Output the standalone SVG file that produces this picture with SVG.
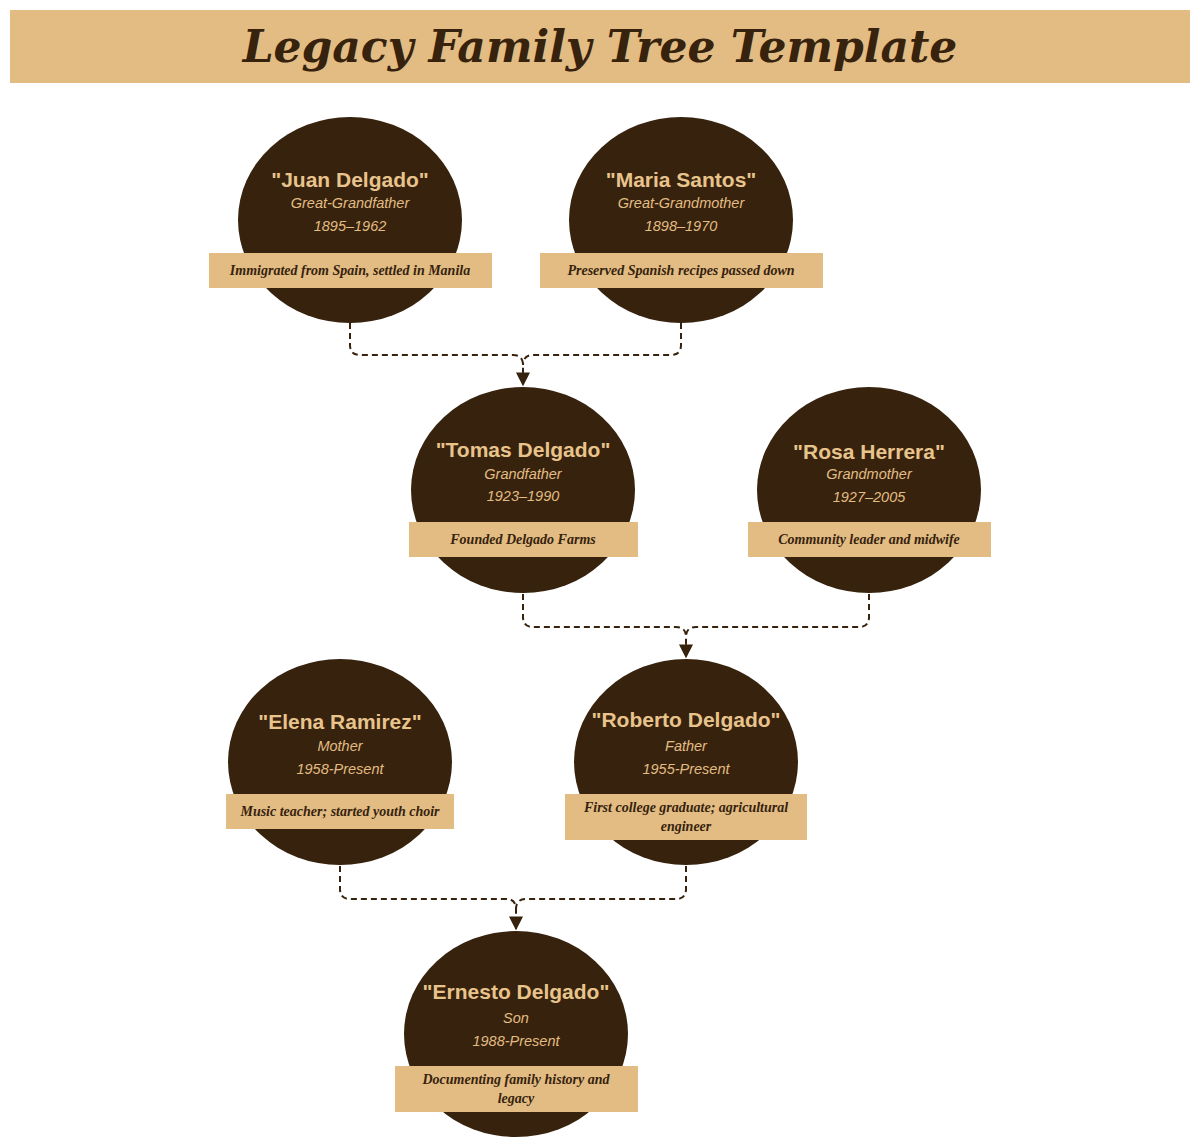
<svg xmlns="http://www.w3.org/2000/svg" width="1200" height="1148" viewBox="0 0 1200 1148">
<defs>
<style>
.c{fill:#36220D}
.b{fill:#E2BC83}
.n{font-family:"Liberation Sans",Arial,sans-serif;font-weight:bold;font-size:21px;fill:#E8C48C;text-anchor:middle}
.r{font-family:"Liberation Sans",Arial,sans-serif;font-style:italic;font-size:14.5px;fill:#E2BC83;text-anchor:middle}
.d{font-family:"Liberation Serif","Times New Roman",serif;font-style:italic;font-weight:bold;font-size:14px;fill:#36220D;text-anchor:middle}
.l{fill:none;stroke:#36220D;stroke-width:2;stroke-dasharray:6,4}
</style>
<marker id="a" viewBox="0 0 10 10" refX="9" refY="5" markerWidth="7" markerHeight="7" orient="auto"><path d="M0,0L10,5L0,10z" fill="#36220D"/></marker>
</defs>
<rect width="1200" height="1148" fill="#fff"/>
<rect x="10" y="10" width="1180" height="73" class="b"/>
<text x="600" y="62" text-anchor="middle" font-family="'DejaVu Serif',serif" font-weight="bold" font-style="italic" font-size="44" fill="#36220D">Legacy Family Tree Template</text>
<g id="connectors">
<path class="l" d="M350,323V345Q350,355 360,355H513Q523,355 523,365V385" marker-end="url(#a)"/>
<path class="l" d="M681,323V345Q681,355 671,355H533Q523,355 523,365"/>
<path class="l" d="M523,594V617Q523,627 533,627H676Q686,627 686,637V657" marker-end="url(#a)"/>
<path class="l" d="M869,594V617Q869,627 859,627H696Q686,627 686,637"/>
<path class="l" d="M340,866V889Q340,899 350,899H506Q516,899 516,909V929" marker-end="url(#a)"/>
<path class="l" d="M686,866V889Q686,899 676,899H526Q516,899 516,909"/>
</g>
<g id="juan"><ellipse class="c" cx="350" cy="220" rx="112" ry="103"/><text class="n" x="350" y="187">"Juan Delgado"</text><text class="r" x="350" y="208">Great-Grandfather</text><text class="r" x="350" y="231">1895–1962</text><rect class="b" x="209" y="253" width="283" height="35"/><text class="d" x="350" y="275">Immigrated from Spain, settled in Manila</text></g>
<g id="maria"><ellipse class="c" cx="681" cy="220" rx="112" ry="103"/><text class="n" x="681" y="187">"Maria Santos"</text><text class="r" x="681" y="208">Great-Grandmother</text><text class="r" x="681" y="231">1898–1970</text><rect class="b" x="540" y="253" width="283" height="35"/><text class="d" x="681" y="275">Preserved Spanish recipes passed down</text></g>
<g id="tomas"><ellipse class="c" cx="523" cy="490" rx="112" ry="103"/><text class="n" x="523" y="457">"Tomas Delgado"</text><text class="r" x="523" y="479">Grandfather</text><text class="r" x="523" y="501">1923–1990</text><rect class="b" x="409" y="522" width="229" height="35"/><text class="d" x="523" y="544">Founded Delgado Farms</text></g>
<g id="rosa"><ellipse class="c" cx="869" cy="490" rx="112" ry="103"/><text class="n" x="869" y="459">"Rosa Herrera"</text><text class="r" x="869" y="479">Grandmother</text><text class="r" x="869" y="502">1927–2005</text><rect class="b" x="748" y="522" width="243" height="35"/><text class="d" x="869" y="544">Community leader and midwife</text></g>
<g id="elena"><ellipse class="c" cx="340" cy="762" rx="112" ry="103"/><text class="n" x="340" y="729">"Elena Ramirez"</text><text class="r" x="340" y="751">Mother</text><text class="r" x="340" y="774">1958-Present</text><rect class="b" x="226" y="794" width="228" height="35"/><text class="d" x="340" y="816">Music teacher; started youth choir</text></g>
<g id="roberto"><ellipse class="c" cx="686" cy="762" rx="112" ry="103"/><text class="n" x="686" y="727">"Roberto Delgado"</text><text class="r" x="686" y="751">Father</text><text class="r" x="686" y="774">1955-Present</text><rect class="b" x="565" y="794" width="242" height="46"/><text class="d" x="686" y="812">First college graduate; agricultural</text><text class="d" x="686" y="831">engineer</text></g>
<g id="ernesto"><ellipse class="c" cx="516" cy="1034" rx="112" ry="103"/><text class="n" x="516" y="999">"Ernesto Delgado"</text><text class="r" x="516" y="1023">Son</text><text class="r" x="516" y="1046">1988-Present</text><rect class="b" x="395" y="1066" width="243" height="46"/><text class="d" x="516" y="1084">Documenting family history and</text><text class="d" x="516" y="1103">legacy</text></g>
</svg>
